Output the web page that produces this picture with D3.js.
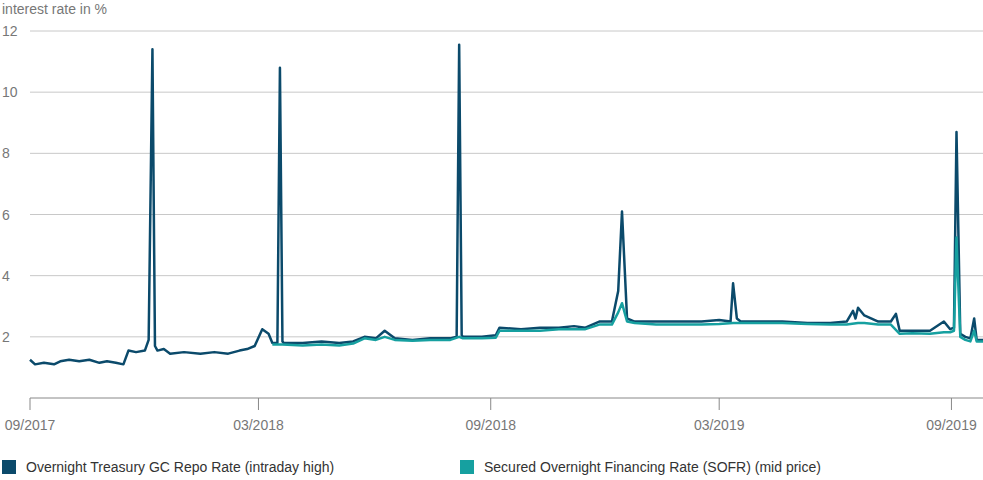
<!DOCTYPE html>
<html><head><meta charset="utf-8">
<script src="https://cdn.jsdelivr.net/npm/d3@7"></script>
<style>body{margin:0;background:#fff;font-family:"Liberation Sans",Arial,sans-serif;}</style>
</head><body><div id="chart"></div>
<script>
// repo rate (intraday high)
var repoDates = ["2017-09-01","2017-09-05","2017-09-12","2017-09-20","2017-09-25","2017-10-02","2017-10-10","2017-10-18","2017-10-26","2017-11-01","2017-11-08","2017-11-14","2017-11-18","2017-11-24","2017-12-01","2017-12-04","2017-12-07","2017-12-09","2017-12-11","2017-12-16","2017-12-21","2018-01-01","2018-01-14","2018-01-25","2018-02-05","2018-02-14","2018-02-20","2018-02-26","2018-03-04","2018-03-09","2018-03-12","2018-03-16","2018-03-18","2018-03-20","2018-03-21","2018-04-05","2018-04-20","2018-05-04","2018-05-15","2018-05-24","2018-06-02","2018-06-09","2018-06-17","2018-07-01","2018-07-15","2018-07-31","2018-08-05","2018-08-07","2018-08-09","2018-08-10","2018-08-25","2018-09-05","2018-09-08","2018-09-25","2018-10-10","2018-10-25","2018-11-06","2018-11-15","2018-11-26","2018-12-06","2018-12-11","2018-12-14","2018-12-18","2018-12-24","2019-01-10","2019-01-28","2019-02-15","2019-03-01","2019-03-10","2019-03-12","2019-03-15","2019-03-18","2019-04-01","2019-04-20","2019-05-10","2019-05-28","2019-06-10","2019-06-15","2019-06-17","2019-06-19","2019-06-24","2019-07-05","2019-07-15","2019-07-19","2019-07-22","2019-08-01","2019-08-15","2019-08-26","2019-08-31","2019-09-03","2019-09-05","2019-09-08","2019-09-12","2019-09-16","2019-09-19","2019-09-21","2019-09-26"];
var repoValues = [1.25,1.1,1.15,1.1,1.2,1.25,1.2,1.25,1.15,1.2,1.15,1.1,1.55,1.5,1.55,1.9,11.4,1.7,1.55,1.6,1.45,1.5,1.45,1.5,1.45,1.55,1.6,1.7,2.25,2.1,1.8,1.8,10.8,1.85,1.8,1.8,1.85,1.8,1.85,2.0,1.95,2.2,1.95,1.9,1.95,1.95,2.0,11.55,2.05,2.0,2.0,2.05,2.3,2.25,2.3,2.3,2.35,2.3,2.5,2.5,3.5,6.1,2.6,2.5,2.5,2.5,2.5,2.55,2.5,3.75,2.6,2.5,2.5,2.5,2.45,2.45,2.5,2.85,2.6,2.95,2.7,2.5,2.5,2.75,2.2,2.2,2.2,2.5,2.25,2.3,8.7,2.1,2.0,1.95,2.6,1.9,1.9];
// SOFR (mid price)
var sofrDates = ["2018-03-12","2018-03-20","2018-04-05","2018-04-20","2018-05-04","2018-05-15","2018-05-24","2018-06-02","2018-06-09","2018-06-17","2018-07-01","2018-07-15","2018-07-31","2018-08-07","2018-08-10","2018-08-25","2018-09-05","2018-09-08","2018-09-25","2018-10-10","2018-10-25","2018-11-06","2018-11-15","2018-11-26","2018-12-06","2018-12-11","2018-12-14","2018-12-18","2018-12-24","2019-01-10","2019-01-28","2019-02-15","2019-03-01","2019-03-12","2019-03-18","2019-04-01","2019-04-20","2019-05-10","2019-05-28","2019-06-10","2019-06-19","2019-06-24","2019-07-05","2019-07-15","2019-07-22","2019-08-01","2019-08-15","2019-08-26","2019-08-31","2019-09-03","2019-09-05","2019-09-08","2019-09-12","2019-09-16","2019-09-19","2019-09-21","2019-09-26"];
var sofrValues = [1.75,1.75,1.72,1.75,1.72,1.78,1.95,1.9,2.0,1.9,1.87,1.9,1.9,2.0,1.95,1.95,1.97,2.2,2.2,2.2,2.25,2.25,2.25,2.4,2.4,2.8,3.1,2.5,2.45,2.4,2.4,2.4,2.42,2.45,2.45,2.45,2.45,2.42,2.4,2.4,2.45,2.45,2.4,2.4,2.1,2.12,2.1,2.15,2.15,2.2,5.25,2.0,1.9,1.85,2.2,1.85,1.85];
var xTicks = ["2017-09-01","2018-03-01","2018-09-01","2019-03-01","2019-09-01"];
var yTicks = [2,4,6,8,10,12];
var seriesNames = ["Overnight Treasury GC Repo Rate (intraday high)","Secured Overnight Financing Rate (SOFR) (mid price)"];
var colors = ["#0b4a6b","#16a0a0"];

var width = 983, height = 480;
var parse = d3.timeParse("%Y-%m-%d"), fmt = d3.timeFormat("%m/%Y");
var svg = d3.select("#chart").append("svg").attr("width", width).attr("height", height);

var x = d3.scaleTime().domain([parse("2017-09-01"), parse("2019-09-26")]).range([30, 983]);
var y = d3.scaleLinear().domain([0, 12]).range([398, 31]);

svg.append("g").selectAll("line").data(yTicks).enter().append("line")
   .attr("x1", 30).attr("x2", 983)
   .attr("y1", d => y(d)).attr("y2", d => y(d))
   .attr("stroke", "#c8c8c8").attr("stroke-width", 1);
svg.append("g").selectAll("text").data(yTicks).enter().append("text")
   .attr("x", 2).attr("y", d => y(d) + 5)
   .attr("fill", "#777").style("font-size", "14px").text(d => d);
svg.append("text").attr("x", 2).attr("y", 14).attr("fill", "#777")
   .style("font-size", "14px").text("interest rate in %");

svg.append("line").attr("x1", 30).attr("x2", 983).attr("y1", 398).attr("y2", 398)
   .attr("stroke", "#888");
var xt = svg.append("g").selectAll("g").data(xTicks.map(parse)).enter().append("g");
xt.append("line").attr("x1", d => x(d)).attr("x2", d => x(d)).attr("y1", 398).attr("y2", 410).attr("stroke", "#888");
xt.append("text").attr("x", d => x(d)).attr("y", 430).attr("text-anchor", "middle")
  .attr("fill", "#777").style("font-size", "14px").text(d => fmt(d));

var line = d3.line().x(d => x(d[0])).y(d => y(d[1]));
var repo = repoDates.map((d, i) => [parse(d), repoValues[i]]);
var sofr = sofrDates.map((d, i) => [parse(d), sofrValues[i]]);
svg.append("path").datum(repo).attr("d", line).attr("fill", "none")
   .attr("stroke", colors[0]).attr("stroke-width", 2.5).attr("stroke-linejoin", "round");
svg.append("path").datum(sofr).attr("d", line).attr("fill", "none")
   .attr("stroke", colors[1]).attr("stroke-width", 2.5).attr("stroke-linejoin", "round");

var leg = svg.append("g").selectAll("g").data(seriesNames).enter().append("g")
   .attr("transform", (d, i) => "translate(" + (i == 0 ? 2 : 460) + ",460)");
leg.append("rect").attr("width", 14).attr("height", 14).attr("fill", (d, i) => colors[i]);
leg.append("text").attr("x", 24).attr("y", 12).attr("fill", "#333")
   .style("font-size", "14px").text(d => d);
</script>
</body></html>
